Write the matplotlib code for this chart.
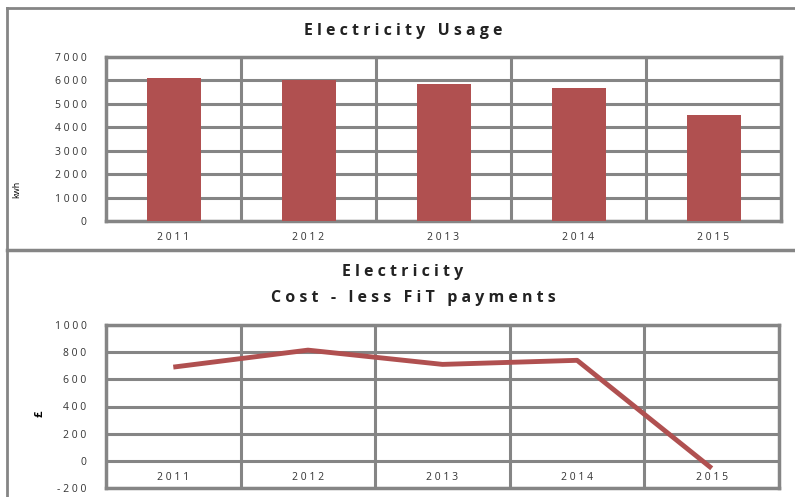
import matplotlib.pyplot as plt
from matplotlib.lines import Line2D

years = ['2011', '2012', '2013', '2014', '2015']
usage_kwh = [6100, 6000, 5830, 5660, 4540]
cost_gbp = [690, 815, 710, 740, -55]
usage_ticks = [0, 1000, 2000, 3000, 4000, 5000, 6000, 7000]
cost_ticks = [-200, 0, 200, 400, 600, 800, 1000]

GRID = '#858585'
RED = '#b05050'
FONT = 'Open Sans'


def spaced(text):
    """
    Mimics the wide letter spacing of the original chart.
    """
    return ' '.join(text)


def px(x, y):
    """
    Pixel position (from top-left) to figure fraction.
    """
    return x / 795, 1 - y / 497


def frame_line(fig, x0, y0, x1, y1, lw=2):
    (a, b), (c, d) = px(x0, y0), px(x1, y1)
    fig.add_artist(Line2D([a, c], [b, d], transform=fig.transFigure,
                          color=GRID, linewidth=lw))


def style_axes(ax, ticks, lo, hi):
    ax.set_xlim(-0.5, len(years) - 0.5)
    ax.set_ylim(lo, hi)
    ax.set_yticks(ticks)
    ax.set_yticklabels([spaced(str(t)) for t in ticks], fontsize=7.5,
                       family=FONT, color='#333333')
    ax.set_xticks([i + 0.5 for i in range(len(years) - 1)])
    ax.set_xticklabels([])
    ax.tick_params(length=0, pad=14)
    ax.grid(True, color=GRID, linewidth=2.2)
    ax.set_axisbelow(True)
    for spine in ax.spines.values():
        spine.set_color(GRID)
        spine.set_linewidth(2.5)


fig = plt.figure(figsize=(7.95, 4.97), dpi=100)

# panel frames, open on the right like the source
frame_line(fig, 7, 8, 800, 8)
frame_line(fig, 7, 8, 7, 500)
frame_line(fig, 7, 249.5, 800, 249.5, lw=2.5)

# top: usage bars
ax1 = fig.add_axes([106 / 795, 1 - 221 / 497, 675 / 795, 164 / 497])
ax1.bar(range(len(years)), usage_kwh, width=0.4, color=RED, zorder=3)
style_axes(ax1, usage_ticks, 0, 7000)
for i, y in enumerate(years):
    ax1.text(i, -700, spaced(y), ha='center', va='center', fontsize=7.5,
             family=FONT, color='#333333')
fig.text(*px(17, 189), 'kwh', rotation=90, fontsize=6.5,
         family=FONT, ha='center', va='center')
fig.text(*px(403, 31), spaced('Electricity Usage'), ha='center',
         va='center', fontsize=11.5, fontweight='bold', family=FONT,
         color='#222222')

# bottom: cost line
ax2 = fig.add_axes([106 / 795, 1 - 488 / 497, 673 / 795, 163 / 497])
ax2.plot(range(len(years)), cost_gbp, color=RED, linewidth=3.5, zorder=3,
         solid_capstyle='butt')
style_axes(ax2, cost_ticks, -200, 1000)
for i, y in enumerate(years):
    ax2.text(i, -125, spaced(y), ha='center', va='center', fontsize=7.5,
             family=FONT, color='#333333')
fig.text(*px(40, 414), '£', rotation=90, fontsize=8,
         fontweight='bold', family=FONT, ha='center', va='center')
fig.text(*px(403, 272), spaced('Electricity'), ha='center',
         va='center', fontsize=11.5, fontweight='bold', family=FONT,
         color='#222222')
fig.text(*px(413, 298), spaced('Cost - less FiT payments'),
         ha='center', va='center', fontsize=11.5, fontweight='bold',
         family=FONT, color='#222222')

fig.savefig('out.png', dpi=100)
